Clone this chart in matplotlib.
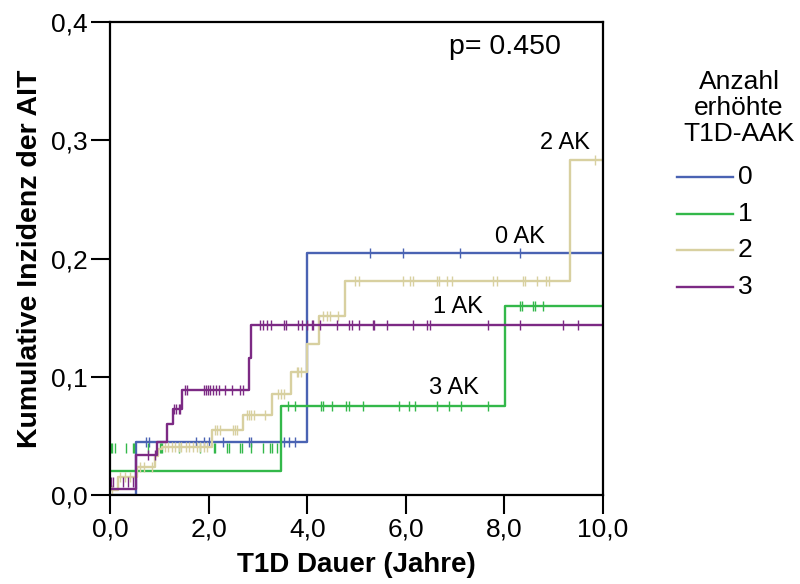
import numpy as np
import matplotlib
matplotlib.use("Agg")
import matplotlib.pyplot as plt
from matplotlib.lines import Line2D

plt.rcParams['font.family'] = ['Liberation Sans', 'DejaVu Sans']

# ---- data ----
groups = ["0", "1", "2", "3"]
colors = ["#4a63b3", "#33b84a", "#d8d0a0", "#7c2a84"]

t0 = [0, 0.52, 4.0, 10]
v0 = [0, 0.045, 0.205, 0.205]
c0 = [0.74, 0.79, 1.74, 1.91, 2.01, 2.30, 2.81, 2.85, 3.52, 3.64, 3.75,
      5.27, 5.94, 7.09, 8.32]

t1 = [0, 3.47, 8.01, 10]
v1 = [0.02, 0.075, 0.16, 0.16]
c1 = [3.62, 3.75, 4.29, 4.33, 4.50, 4.78, 4.85, 5.13, 5.87, 6.07, 6.19,
      6.63, 6.88, 7.12, 7.67, 8.32, 8.35, 8.57, 8.62, 8.79]
# extra green censor marks drawn at 0.04 in the original
c1_extra = [0.02, 0.05, 0.10, 0.32, 0.46, 0.49, 0.78, 1.01, 1.03, 1.06, 1.39,
            1.83, 2.10, 2.13, 2.37, 2.41, 2.64, 2.67, 2.87, 3.11, 3.25, 3.28, 3.38]
c1_extra_level = 0.04

t2 = [0, 0.17, 0.54, 0.91, 0.98, 1.05, 2.06, 2.70, 3.28, 3.67, 4.0, 4.24, 4.77, 9.33, 10]
v2 = [0.004, 0.015, 0.024, 0.033, 0.039, 0.041, 0.055, 0.068, 0.085, 0.104,
      0.128, 0.151, 0.181, 0.283, 0.283]
c2 = [0.05, 0.20, 0.30, 0.41, 0.61, 0.68, 0.85,
      1.12, 1.18, 1.25, 1.32, 1.39, 1.45, 1.54, 1.61, 1.68, 1.76, 1.83, 1.91, 1.97,
      2.13, 2.18, 2.23, 2.49, 2.54, 2.57,
      2.77, 2.82, 2.87, 2.92, 3.14,
      3.41, 3.46, 3.52, 3.79, 3.82, 3.87,
      4.33, 4.40, 4.46, 4.63,
      4.97, 5.05, 5.94, 6.09, 6.15, 6.63, 6.67, 6.83, 6.93, 7.77, 7.85,
      8.37, 8.42, 8.67, 8.84, 8.91, 9.84]

t3 = [0, 0.52, 0.95, 1.15, 1.27, 1.47, 2.81, 2.85, 10]
v3 = [0.005, 0.034, 0.045, 0.06, 0.073, 0.089, 0.116, 0.144, 0.144]
c3 = [0.78, 0.91, 1.30, 1.34, 1.39, 1.42,
      1.52, 1.57, 1.91, 1.95, 1.99, 2.03, 2.08, 2.16, 2.22, 2.33, 2.47, 2.64, 2.69,
      3.04, 3.11, 3.18, 3.26, 3.52, 3.57, 3.82, 3.89, 3.99, 4.09, 4.12, 4.25,
      4.61, 4.85, 4.90, 5.06, 5.33, 5.36, 5.62, 6.14, 6.42, 6.49, 7.67, 8.32,
      9.19, 9.50]
c3_extra = [0.02, 0.07, 0.27, 0.37, 0.47]
c3_extra_level = 0.011

series = [(t0, v0, c0), (t1, v1, c1), (t2, v2, c2), (t3, v3, c3)]

curve_labels = ["0 AK", "1 AK", "2 AK", "3 AK"]
label_pos = [(8.32, 0.218), (7.06, 0.159), (9.23, 0.298), (6.98, 0.0905)]

xticks = [0, 2, 4, 6, 8, 10]
xticklabels = ["0,0", "2,0", "4,0", "6,0", "8,0", "10,0"]
yticks = [0.0, 0.1, 0.2, 0.3, 0.4]
yticklabels = ["0,0", "0,1", "0,2", "0,3", "0,4"]

legend_title = "Anzahl\nerhöhte\nT1D-AAK"

# ---- plot ----
W, H = 800, 584
fig = plt.figure(figsize=(W / 100, H / 100), dpi=100)
ax = fig.add_axes([110 / W, 1 - 495 / H, 493 / W, 473 / H])


def step_val(t, v, x):
    idx = np.searchsorted(np.asarray(t), np.asarray(x), side='right') - 1
    return np.asarray(v)[idx]


draw_order = [2, 1, 0, 3]
for i in draw_order:
    t, v, c = series[i]
    ax.step(t, v, where='post', color=colors[i], lw=1.7, zorder=2 + i * 0.1)
    ax.plot(c, step_val(t, v, c), ls='none', marker='|', ms=6.5, mew=1.0,
            color=colors[i], zorder=2 + i * 0.1)

ax.plot(c1_extra, [c1_extra_level] * len(c1_extra), ls='none', marker='|',
        ms=6.5, mew=1.0, color=colors[1], zorder=2)
ax.plot(c3_extra, [c3_extra_level] * len(c3_extra), ls='none', marker='|',
        ms=6.5, mew=1.0, color=colors[3], zorder=2.3)

for lab, (x, y) in zip(curve_labels, label_pos):
    ax.text(x, y, lab, ha='center', va='center', fontsize=17)

ax.text(8.01, 0.379, "p= 0.450", ha='center', va='center', fontsize=20.5)

ax.set_xlim(0, 10)
ax.set_ylim(0, 0.4)
ax.set_xticks(xticks)
ax.set_xticklabels(xticklabels, fontsize=19)
ax.set_yticks(yticks)
ax.set_yticklabels(yticklabels, fontsize=19)
ax.tick_params(direction='out', length=14, width=1.5, pad=2)
for s in ax.spines.values():
    s.set_linewidth(1.6)

ax.set_xlabel("T1D Dauer (Jahre)", fontsize=20, fontweight='bold', labelpad=8)
ax.set_ylabel("Kumulative Inzidenz der AIT", fontsize=20.5, fontweight='bold', labelpad=6)

# legend drawn manually (title centered differently than entries)
fig.text(739 / W, 1 - 108 / H, legend_title, ha='center', va='center',
         fontsize=19, linespacing=1.1)
entry_y = [177, 214, 250, 287]
for i, g in enumerate(groups):
    yy = 1 - entry_y[i] / H
    fig.add_artist(Line2D([677 / W, 733 / W], [yy, yy], color=colors[i], lw=1.7))
    fig.text(738 / W, yy, g, ha='left', va='center', fontsize=19)

fig.savefig("out.png", dpi=100)
